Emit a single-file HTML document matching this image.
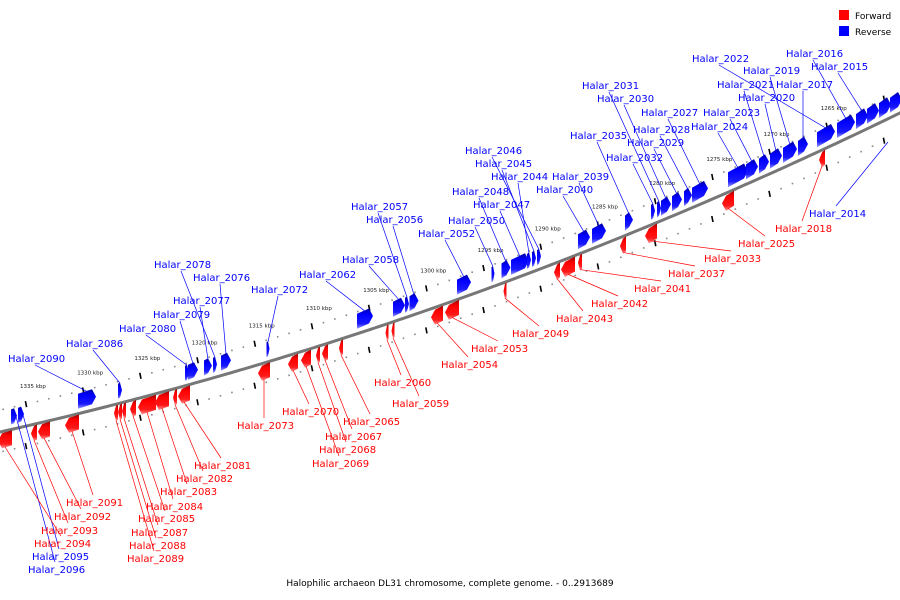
<!DOCTYPE html>
<html><head><meta charset="utf-8"><style>
html,body{margin:0;padding:0;background:#fff;}
svg{display:block;font-family:"DejaVu Sans","Liberation Sans",sans-serif;}
</style></head><body>
<svg id="chart" width="900" height="600" viewBox="0 0 900 600">
<defs>
<linearGradient id="gb" x1="0" y1="0" x2="0" y2="1"><stop offset="0" stop-color="#0000a0"/><stop offset="0.3" stop-color="#0000ff"/><stop offset="0.75" stop-color="#1a1aff"/><stop offset="1" stop-color="#9a9aff"/></linearGradient>
<linearGradient id="gr" x1="0" y1="0" x2="0" y2="1"><stop offset="0" stop-color="#a00000"/><stop offset="0.3" stop-color="#ff0000"/><stop offset="0.75" stop-color="#ff1a1a"/><stop offset="1" stop-color="#ff9a9a"/></linearGradient>
</defs>
<g id="ticks"></g>
<path id="axis" fill="none" stroke="#777" stroke-width="3"/>
<g id="genes"></g>
<g id="labels"></g>
<g>
<rect x="839" y="10" width="10" height="10" fill="#f00"/>
<text x="855" y="19" font-size="9">Forward</text>
<rect x="839" y="26" width="10" height="10" fill="#00f"/>
<text x="855" y="35" font-size="9">Reverse</text>
</g>
<text x="450" y="586" font-size="9" text-anchor="middle">Halophilic archaeon DL31 chromosome, complete genome. - 0..2913689</text>
</svg>
<script>
const NS='http://www.w3.org/2000/svg';
// gene data: names, strand (1 forward / -1 reverse), position (px along axis), width
const geneNames=['2096','2095','2090','2086','2080','2079','2077','2078','2076','2072','2062','2058','2057','2056','2052','2050','2048','2047','2044','2045','2046','2040','2039','2035','2032','2031','2030','2029','2028','2027','2024','2023','2021','2020','2019','2017','2022','2016','2015','x1','x2','x3',
'2094','2093','2092','2091','2089','2088','2087','2085','2084','2083','2082','2081','2073','2070','2069','2068','2067','2065','2060','2059','2054','2053','2049','2043','2042','2041','2037','2033','2025','2018'];
const geneStrand=[-1,-1,-1,-1,-1,-1,-1,-1,-1,-1,-1,-1,-1,-1,-1,-1,-1,-1,-1,-1,-1,-1,-1,-1,-1,-1,-1,-1,-1,-1,-1,-1,-1,-1,-1,-1,-1,-1,-1,-1,-1,-1,
1,1,1,1,1,1,1,1,1,1,1,1,1,1,1,1,1,1,1,1,1,1,1,1,1,1,1,1,1,1];
const genePos=[14,21,87,120,187,193,208,215,226,268,365,399,407,414,464,493,506,520,529,534,539,584,599,629,653,659,666,677,688,700,738,752,764,776,790,803,826,846,862,873,885,896,
5,34,44,72,116,120,124,133,147,162,175,184,264,293,306,318,325,341,387,393,437,452,505,557,568,580,623,651,728,822];
const geneWidth=[6,6,18,4,4,10,8,4,10,3,16,12,4,9,14,3,9,18,4,4,4,12,14,8,4,4,10,10,8,16,20,12,10,12,14,10,18,18,12,12,12,12,
14,6,12,14,4,4,4,6,18,14,4,12,12,10,10,4,6,4,3,3,12,14,3,6,14,4,6,12,12,6];
// labels
const labelNames=['2016','2015','2022','2019','2021','2017','2020','2031','2030','2027','2023','2028','2024','2035','2029','2032','2046','2045','2044','2039','2048','2040','2047','2057','2050','2056','2052','2058','2078','2062','2076','2072','2077','2079','2080','2086','2090','2095','2096',
'2018','2025','2033','2037','2041','2042','2043','2049','2053','2054','2060','2059','2065','2067','2068','2069','2070','2073','2081','2082','2083','2084','2085','2087','2088','2089','2091','2092','2093','2094','2014'];
const labelX=[786,811,692,743,717,776,738,582,597,641,703,633,691,570,627,606,465,475,491,552,452,536,473,351,448,366,418,342,154,299,193,251,173,153,119,66,8,32,28,
775,738,704,668,634,591,556,512,471,441,374,392,343,325,319,312,282,237,194,176,160,146,138,131,129,127,66,54,41,34,809];
const labelY=[53,66,58,70,84,84,97,85,98,112,112,129,126,135,142,157,150,163,176,176,191,189,204,206,220,219,233,259,264,274,277,289,300,314,328,343,358,556,569,
228,243,258,273,288,303,318,333,348,364,382,403,421,436,449,463,411,425,465,478,491,506,518,532,545,558,502,516,530,543,213];
// scale
const kbpTicks=[1335,1330,1325,1320,1315,1310,1305,1300,1295,1290,1285,1280,1275,1270,1265];

function ly(x){return 432-0.2228*x-0.0001463*x*x;}
function kx(k){return 26+(1335-k)/5*57.2;}
function el(t,a,p){const e=document.createElementNS(NS,t);for(const k in a)e.setAttribute(k,a[k]);p.appendChild(e);return e;}

let d='M-10 '+ly(-10);
for(let x=-5;x<=910;x+=5)d+=' L'+x+' '+ly(x).toFixed(2);
document.getElementById('axis').setAttribute('d',d);

const tg=document.getElementById('ticks');
for(let k=1338;k>=1260;k--){
  const x=kx(k); if(x<0||x>900)continue;
  const big=k%5===0;
  [-22,20].forEach(off=>{
    const y=ly(x)+off;
    if(big){
      const t=el('line',{x1:x-0.6,y1:y-3,x2:x+0.6,y2:y+3,stroke:'#000','stroke-width':1.6},tg);
      
      
    }else{
      const c=el('rect',{x:x-0.8,y:y-0.8,width:1.6,height:1.6,fill:'#888'},tg);
      
      
    }
  });
}
kbpTicks.forEach(k=>{
  const x=kx(k);
  const t=el('text',{x:x-6,y:ly(x)-38,'font-size':5.5,fill:'#222'},tg);
  t.textContent=k+' kbp';
  
  
});

const gg=document.getElementById('genes');
const geneTop={};
for(let i=0;i<geneNames.length;i++){
  const c=genePos[i],w=geneWidth[i],s=geneStrand[i];
  const x0=c-w/2,x1=c+w/2,h=15;
  let y0a,y0b;
  if(s<0){y0a=ly(x0)-5-h;y0b=ly(x1)-5-h;}else{y0a=ly(x0)+1;y0b=ly(x1)+1;}
  const tip=Math.min(4,w/2);
  let pts;
  if(s<0)pts=[[x0,y0a],[x1-tip,y0b],[x1,y0b+h/2],[x1-tip,y0b+h],[x0,y0a+h]];
  else pts=[[x0+tip,y0a],[x1,y0b],[x1,y0b+h],[x0+tip,y0a+h],[x0,y0a+h/2]];
  const p=el('polygon',{points:pts.map(q=>q.map(v=>v.toFixed(1)).join(',')).join(' '),fill:s<0?'url(#gb)':'url(#gr)'},gg);
  
  
  geneTop[geneNames[i]]={x:c,y:s<0?(y0a+y0b)/2:(y0a+y0b)/2+h,s:s};
}

const lg=document.getElementById('labels');
for(let i=0;i<labelNames.length;i++){
  const n=labelNames[i];
  const g=geneTop[n];
  const red=g?g.s>0:false;
  const col=red?'#f00':'#00f';
  const cx=labelX[i]+27;
  let x2,y2,y1;
  if(g){x2=g.x;y2=g.y;}else{x2=888;y2=142;}
  y1=(y2<labelY[i])?labelY[i]-7:labelY[i]+7;
  const ln=el('line',{x1:cx,y1:y1,x2:x2,y2:y2,stroke:col,'stroke-width':0.7},lg);
  
  
  const t=el('text',{x:labelX[i],y:labelY[i]+4,'font-size':10,fill:col},lg);
  t.textContent='Halar_'+n;
  
  
}
</script>
</body></html>
